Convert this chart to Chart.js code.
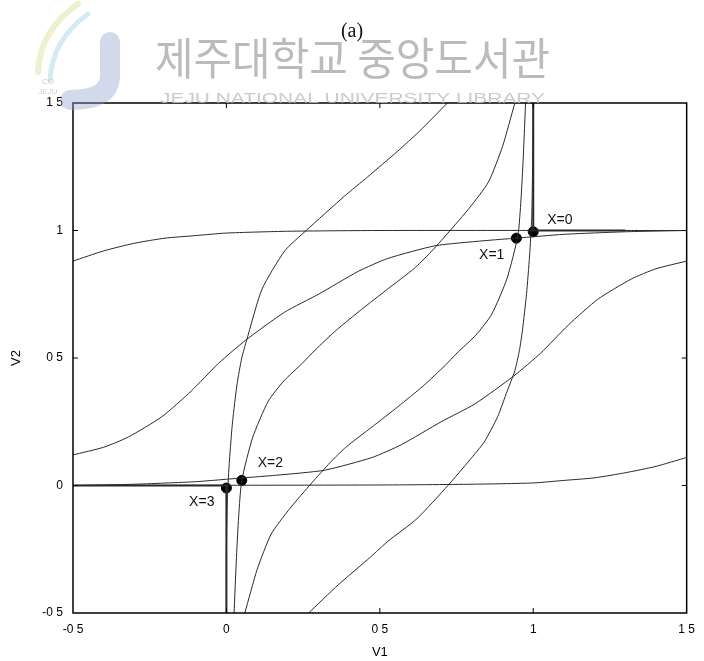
<!DOCTYPE html>
<html>
<head>
<meta charset="utf-8">
<script src="https://cdn.jsdelivr.net/npm/chart.js@4.4.1/dist/chart.umd.min.js"></script>
<style>
  html, body { margin: 0; padding: 0; background: #fff; }
  canvas { display: block; }
</style>
</head>
<body>
<canvas id="myChart" width="704" height="661"></canvas>
<script>
"use strict";

/* nullclines V1-V2, fixed points for X = 0..3 */

const tickValues = [-0.5, 0, 0.5, 1, 1.5];
const tickLabels = ["-0 5", "0", "0 5", "1", "1 5"];

// flat sigmoids (upper one and its mirror)
const curveA = [[-0.5, 0.88], [-0.4, 0.92], [-0.3, 0.95], [-0.2, 0.97], [-0.1, 0.98], [0, 0.99], [0.2, 0.997], [0.5, 1], [1.5, 1]];
const curveB = [[-0.5, 0], [0.5, 0.002], [0.8, 0.005], [1.0, 0.01], [1.1, 0.02], [1.2, 0.03], [1.3, 0.05], [1.4, 0.075], [1.5, 0.11]];

// low gain pair
const curveS = [[-0.5, 0.12], [-0.4, 0.15], [-0.32, 0.19], [-0.21, 0.27], [-0.115, 0.37], [-0.025, 0.48], [0.063, 0.57], [0.19, 0.68],
  [0.3, 0.75], [0.43, 0.84], [0.525, 0.89], [0.68, 0.94], [0.84, 0.96], [0.945, 0.97], [1.1, 0.985], [1.3, 0.995], [1.5, 1.0]];
const curveS2 = [[1.5, 0.88], [1.4, 0.85], [1.32, 0.81], [1.21, 0.73], [1.115, 0.63], [1.025, 0.52], [0.937, 0.43], [0.81, 0.32],
  [0.7, 0.25], [0.57, 0.16], [0.475, 0.11], [0.32, 0.06], [0.16, 0.04], [0.055, 0.03], [-0.1, 0.015], [-0.3, 0.005], [-0.5, 0]];

// steep pair
const curveP = [[0, -0.5], [0, -0.25], [0.003, -0.05], [0.01, 0.1], [0.02, 0.25], [0.035, 0.4], [0.05, 0.5], [0.066, 0.57],
  [0.116, 0.77], [0.19, 0.92], [0.26, 1.0], [0.385, 1.135], [0.46, 1.21], [0.557, 1.31], [0.63, 1.39], [0.72, 1.5]];
const curveQ = [[1.0, 1.5], [0.998, 1.25], [0.995, 1.05], [0.988, 0.9], [0.978, 0.75], [0.965, 0.61], [0.955, 0.53], [0.94, 0.45],
  [0.915, 0.37], [0.884, 0.27], [0.84, 0.17], [0.793, 0.10], [0.722, 0.0], [0.621, -0.13], [0.525, -0.22], [0.47, -0.28],
  [0.364, -0.39], [0.268, -0.5]];

// through X=2 and X=1
const curveR = [[0.025, -0.5], [0.032, -0.3], [0.04, -0.12], [0.05, 0.02], [0.086, 0.19], [0.136, 0.33], [0.187, 0.41], [0.248, 0.48],
  [0.288, 0.53], [0.359, 0.61], [0.44, 0.69], [0.525, 0.77], [0.611, 0.85], [0.662, 0.91], [0.722, 0.99], [0.793, 1.09],
  [0.854, 1.19], [0.9, 1.33], [0.94, 1.5]];
const curveR2 = [[0.975, 1.5], [0.968, 1.3], [0.96, 1.12], [0.95, 0.98], [0.914, 0.81], [0.864, 0.67], [0.813, 0.59], [0.752, 0.52],
  [0.712, 0.47], [0.641, 0.39], [0.56, 0.31], [0.475, 0.23], [0.389, 0.15], [0.338, 0.09], [0.278, 0.01], [0.207, -0.09],
  [0.146, -0.19], [0.1, -0.33], [0.06, -0.5]];

// step (infinite gain) lines
const stepHigh = [[1, 1.5], [1, 1], [1.3, 1]];
const stepLow = [[-0.5, 0], [0, 0], [0, -0.5]];

// fixed points
const pointNames = ["X=0", "X=1", "X=2", "X=3"];
const pointV1 = [1.0, 0.945, 0.05, 0.0];
const pointV2 = [0.995, 0.97, 0.02, -0.01];

const toXY = arr => arr.map(p => ({ x: p[0], y: p[1] }));

function curve(arr, width, tension) {
  return {
    data: toXY(arr),
    showLine: true,
    borderColor: "#2a2a2a",
    borderWidth: width || 1,
    pointRadius: 0,
    tension: tension === undefined ? 0.2 : tension
  };
}

const extras = {
  id: "extras",
  afterDraw(chart) {
    const ctx = chart.ctx;
    const a = chart.chartArea;
    const xs = chart.scales.x, ys = chart.scales.y;
    ctx.save();

    // frame
    ctx.strokeStyle = "#000";
    ctx.lineWidth = 1.5;
    ctx.strokeRect(a.left, a.top, a.right - a.left, a.bottom - a.top);

    // inward ticks on all sides
    ctx.lineWidth = 1;
    ctx.beginPath();
    tickValues.slice(1, -1).forEach(v => {
      const px = xs.getPixelForValue(v), py = ys.getPixelForValue(v);
      ctx.moveTo(px, a.bottom); ctx.lineTo(px, a.bottom - 5);
      ctx.moveTo(px, a.top); ctx.lineTo(px, a.top + 5);
      ctx.moveTo(a.left, py); ctx.lineTo(a.left + 5, py);
      ctx.moveTo(a.right, py); ctx.lineTo(a.right - 5, py);
    });
    ctx.stroke();

    // fixed point labels
    const offs = [[14, -12, "left"], [-12, 17, "right"], [16, -17, "left"], [-12, 14, "right"]];
    ctx.fillStyle = "#111";
    ctx.font = "14px 'Liberation Sans'";
    ctx.textBaseline = "middle";
    pointNames.forEach((n, i) => {
      const px = xs.getPixelForValue(pointV1[i]), py = ys.getPixelForValue(pointV2[i]);
      ctx.textAlign = offs[i][2];
      ctx.fillText(n, px + offs[i][0], py + offs[i][1]);
    });

    // title
    ctx.textAlign = "center";
    ctx.font = "20px 'Liberation Serif'";
    ctx.fillText("(a)", 352, 32);

    drawWatermark(ctx);
    ctx.restore();
  }
};

function drawWatermark(ctx) {
  ctx.save();
  ctx.lineCap = "round";
  // logo
  ctx.strokeStyle = "rgba(215,225,150,0.45)";
  ctx.lineWidth = 6;
  ctx.beginPath();
  ctx.moveTo(78, 4); ctx.quadraticCurveTo(40, 30, 38, 72);
  ctx.stroke();
  ctx.strokeStyle = "rgba(150,205,225,0.4)";
  ctx.lineWidth = 5;
  ctx.beginPath();
  ctx.moveTo(88, 14); ctx.quadraticCurveTo(52, 40, 50, 80);
  ctx.stroke();
  ctx.strokeStyle = "rgba(140,160,205,0.4)";
  ctx.lineWidth = 20;
  ctx.beginPath();
  ctx.moveTo(110, 42); ctx.lineTo(110, 78);
  ctx.quadraticCurveTo(108, 100, 70, 100);
  ctx.stroke();
  ctx.fillStyle = "rgba(160,160,160,0.5)";
  ctx.font = "8px 'Liberation Sans'";
  ctx.textAlign = "center";
  ctx.fillText("CO", 48, 82);
  ctx.fillText("JEJU", 48, 92);

  // library name
  ctx.fillStyle = "rgba(170,170,170,0.8)";
  ctx.font = "44px 'Noto Sans CJK KR'";
  ctx.textAlign = "left";
  ctx.textBaseline = "middle";
  const kr = "제주대학교 중앙도서관";
  let w = ctx.measureText(kr).width;
  ctx.save();
  ctx.translate(155, 58);
  ctx.scale(395 / w, 1);
  ctx.fillText(kr, 0, 0);
  ctx.restore();

  ctx.fillStyle = "rgba(190,190,190,0.8)";
  ctx.font = "15px 'Liberation Sans'";
  const en = "JEJU NATIONAL UNIVERSITY LIBRARY";
  w = ctx.measureText(en).width;
  ctx.save();
  ctx.translate(160, 99);
  ctx.scale(385 / w, 1);
  ctx.fillText(en, 0, 0);
  ctx.restore();
  ctx.restore();
}

Chart.defaults.font.family = "'Liberation Sans'";
Chart.defaults.color = "#000";

const chartDiv = document.getElementById("myChart");

new Chart(chartDiv, {
  type: "scatter",
  data: {
    datasets: [
      curve(curveA), curve(curveB),
      curve(curveS), curve(curveS2),
      curve(curveP), curve(curveQ),
      curve(curveR), curve(curveR2),
      curve(stepHigh, 2, 0), curve(stepLow, 2, 0),
      {
        data: pointV1.map((v, i) => ({ x: v, y: pointV2[i] })),
        showLine: false,
        pointRadius: 5,
        pointBackgroundColor: "#000",
        pointBorderColor: "#000"
      }
    ]
  },
  options: {
    responsive: false,
    devicePixelRatio: 1,
    animation: false,
    layout: { padding: { top: 103, right: 13, bottom: 0, left: 0 } },
    plugins: { legend: { display: false }, tooltip: { enabled: false } },
    scales: {
      x: {
        type: "linear",
        min: -0.5,
        max: 1.5,
        afterBuildTicks: s => { s.ticks = tickValues.map(v => ({ value: v })); },
        afterFit: s => { s.height = 48; },
        ticks: {
          padding: 9,
          font: { size: 12 },
          callback: v => tickLabels[tickValues.indexOf(v)]
        },
        grid: { display: false, drawTicks: false },
        border: { display: false },
        title: { display: true, text: "V1", font: { size: 13 }, padding: { top: 0, bottom: 1 } }
      },
      y: {
        type: "linear",
        min: -0.5,
        max: 1.5,
        afterBuildTicks: s => { s.ticks = tickValues.map(v => ({ value: v })); },
        afterFit: s => { s.width = 73; },
        ticks: {
          padding: 10,
          font: { size: 12 },
          callback: v => tickLabels[tickValues.indexOf(v)]
        },
        grid: { display: false, drawTicks: false },
        border: { display: false },
        title: { display: true, text: "V2", font: { size: 13 }, padding: { top: 9, bottom: 0 } }
      }
    }
  },
  plugins: [extras]
});
</script>
</body>
</html>
